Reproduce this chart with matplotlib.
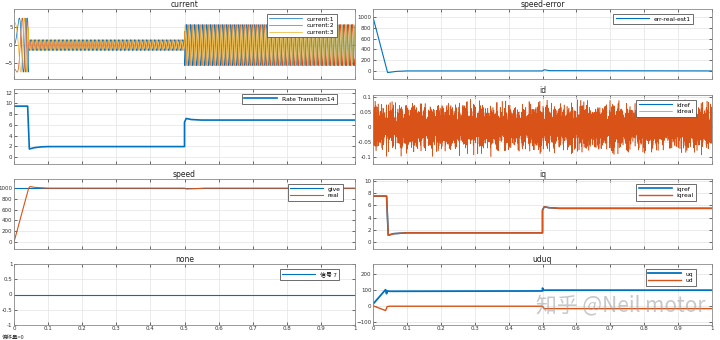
import numpy as np
import matplotlib.pyplot as plt

plt.rcParams['font.family'] = ['DejaVu Sans', 'Noto Sans CJK SC']

# ---- signal data ----
# three-phase current: segment edges, peak amplitude, electrical frequency
cur_edges = [0.0, 0.042, 0.5, 1.0]
cur_amps = [7.5, 1.5, 5.7]
cur_freq = 85.0

rate_t = [0, 0.040, 0.045, 0.06, 0.08, 0.1, 0.5, 0.5, 0.505, 0.52, 0.55, 1.0]
rate_v = [9.5, 9.5, 1.5, 1.75, 1.9, 1.95, 1.95, 6.5, 7.2, 7.0, 6.9, 6.9]

err_t = [0, 0.043, 0.05, 0.07, 0.1, 0.5, 0.505, 0.52, 1.0]
err_v = [1000, -30, -25, -8, 0, 0, 22, 5, 0]

give_t = [0, 1.0]
give_v = [1000, 1000]
real_t = [0, 0.043, 0.047, 0.06, 0.1, 0.5, 0.505, 0.53, 0.56, 1.0]
real_v = [0, 1000, 1030, 1015, 1000, 1000, 985, 990, 1000, 1000]

iq_t = [0, 0.040, 0.045, 0.06, 0.1, 0.5, 0.5, 0.505, 0.52, 0.55, 1.0]
iqref_v = [7.5, 7.5, 1.1, 1.35, 1.5, 1.5, 5.2, 5.75, 5.6, 5.5, 5.5]
iqreal_v = [7.5, 7.5, 1.1, 1.35, 1.5, 1.5, 5.2, 5.75, 5.6, 5.5, 5.5]

uq_t = [0, 0.037, 0.040, 0.042, 0.05, 0.5, 0.5, 0.503, 0.51, 1.0]
uq_v = [10, 100, 75, 92, 90, 92, 110, 96, 97, 97]
ud_t = [0, 0.037, 0.042, 0.05, 0.5, 0.505, 1.0]
ud_v = [0, -30, -5, -3, -3, -18, -18]

none_t = [0, 1.0]
none_v = [0, 0]

# id ripple samples (three tables of different length, overlaid)
id_a = [0.62, -0.35, 0.91, -0.78, 0.14, -0.52, 0.33, 0.87, -0.96, 0.05, -0.21, 0.68, -0.64, 0.41, -0.09,
        0.77, -0.88, 0.26, 0.53, -0.44, 0.95, -0.13, -0.71, 0.38, -0.57, 0.82, -0.29, 0.11, -0.93]
id_b = [-0.47, 0.73, -0.18, 0.56, -0.91, 0.24, 0.85, -0.66, 0.02, -0.39, 0.97, -0.81, 0.31, -0.12, 0.64,
        -0.55, 0.19, -0.98, 0.44, 0.71, -0.27, 0.08, -0.74, 0.59, -0.36, 0.89, -0.61, 0.15, -0.83, 0.48,
        -0.07, 0.92, -0.49, 0.28, -0.69, 0.76, -0.22, 0.53, -0.95, 0.37, -0.04]
id_c = [0.81, -0.26, 0.43, -0.97, 0.12, 0.66, -0.58, 0.35, -0.84, 0.01, 0.93, -0.42, 0.27, -0.73, 0.58,
        -0.16, 0.79, -0.62, 0.21, -0.89, 0.47, 0.09, -0.36, 0.99, -0.51, 0.18, -0.77, 0.63, -0.08, 0.39,
        -0.94, 0.72, -0.31, 0.55, -0.67, 0.04, 0.86, -0.45, 0.24, -0.82, 0.61, -0.19, 0.34, -0.99, 0.76,
        -0.53, 0.13, -0.71, 0.49, -0.11, 0.88, -0.38, 0.29]

xticks = [0, 0.1, 0.2, 0.3, 0.4, 0.5, 0.6, 0.7, 0.8, 0.9, 1]
xticklabels = ['0', '0.1', '0.2', '0.3', '0.4', '0.5', '0.6', '0.7', '0.8', '0.9', '1']

BLUE = '#0072BD'
ORANGE = '#D95319'
YELLOW = '#EDB120'

# ---- build current waveform ----
t = np.linspace(0, 1, 20001)
ph = np.where(t < cur_edges[1], 0.5 * cur_freq / cur_edges[1] * t ** 2,
              cur_freq * (t - cur_edges[1]) + 0.5 * cur_freq * cur_edges[1])
amp = np.select([t < cur_edges[1], t < cur_edges[2]], cur_amps[:2], cur_amps[2])
currents = [amp * np.sin(2 * np.pi * ph - k * 2 * np.pi / 3) for k in range(3)]

n_id = 5000
t_id = np.linspace(0, 1, n_id)
id_real = 0.034 * (np.resize(id_a, n_id) + np.resize(id_b, n_id) + np.resize(id_c, n_id))

fig = plt.figure(figsize=(7.2, 3.4), dpi=100, facecolor='white')

W, H = 720, 340
CJK = ['Noto Sans CJK SC', 'DejaVu Sans']


def make_ax(left, top, right, bottom):
    ax = fig.add_axes([left / W, 1 - bottom / H, (right - left) / W, (bottom - top) / H])
    ax.set_xlim(0, 1)
    ax.set_xticks(xticks)
    ax.set_xticklabels([])
    ax.grid(True, color='#e3e3e3', lw=0.5)
    ax.set_axisbelow(True)
    ax.tick_params(direction='in', length=2, width=0.5, labelsize=4, colors='#333333',
                   top=True, right=True, pad=1)
    for s in ax.spines.values():
        s.set_color('#8a8a8a')
        s.set_linewidth(0.6)
    return ax


def legend(ax, right_px=19, top_px=5):
    bb = ax.get_position()
    wpx, hpx = bb.width * W, bb.height * H
    lg = ax.legend(loc='upper right', bbox_to_anchor=(1 - right_px / wpx, 1 - top_px / hpx),
                   borderaxespad=0, fontsize=4.3, fancybox=False, handlelength=5.5,
                   handletextpad=0.8, borderpad=0.4, labelspacing=0.25, framealpha=1)
    lg.get_frame().set_edgecolor('#555555')
    lg.get_frame().set_linewidth(0.6)
    return lg


def title(ax, s):
    ax.set_title(s, fontsize=5.5, pad=1.5, color='#222222')


L0, L1, R0, R1 = 14, 355, 373, 712

# current
ax = make_ax(L0, 9, L1, 79)
for c, col, lab in zip(currents, [BLUE, ORANGE, YELLOW], ['current:1', 'current:2', 'current:3']):
    ax.plot(t, c, color=col, lw=0.5, label=lab)
ax.set_ylim(-9.4, 10)
ax.set_yticks([-5, 0, 5])
title(ax, 'current')
legend(ax, 18, 5)

# Rate Transition14
ax = make_ax(L0, 89, L1, 164)
ax.plot(rate_t, rate_v, color=BLUE, lw=1.2, label='Rate Transition14')
ax.set_ylim(-1.3, 12.7)
ax.set_yticks([0, 2, 4, 6, 8, 10, 12])
legend(ax, 18, 5)

# speed
ax = make_ax(L0, 179, L1, 249)
ax.plot(give_t, give_v, color=BLUE, lw=0.8, label='give')
ax.plot(real_t, real_v, color=ORANGE, lw=0.8, label='real')
ax.set_ylim(-130, 1170)
ax.set_yticks([0, 200, 400, 600, 800, 1000])
title(ax, 'speed')
legend(ax, 12, 5)

# none
ax = make_ax(L0, 264, L1, 325)
ax.plot(none_t, none_v, color=BLUE, lw=0.8, label='信号 7')
ax.set_ylim(-1, 1)
ax.set_yticks([-1, -0.5, 0, 0.5, 1])
ax.set_yticklabels(['-1', '-0.5', '0', '0.5', '1'])
ax.set_xticklabels(xticklabels)
title(ax, 'none')
for txt in legend(ax, 16, 5).get_texts():
    txt.set_family(CJK)

# speed-error
ax = make_ax(R0, 9, R1, 79)
ax.plot(err_t, err_v, color=BLUE, lw=0.8, label='err-real-est1')
ax.set_ylim(-150, 1150)
ax.set_yticks([0, 200, 400, 600, 800, 1000])
title(ax, 'speed-error')
legend(ax, 19, 5)

# id
ax = make_ax(R0, 95, R1, 164)
ax.plot([0, 1], [0, 0], color=BLUE, lw=0.8, label='idref')
ax.plot(t_id, id_real, color=ORANGE, lw=0.4, label='idreal')
ax.set_ylim(-0.123, 0.107)
ax.set_yticks([-0.1, -0.05, 0, 0.05, 0.1])
ax.set_yticklabels(['-0.1', '-0.05', '0', '0.05', '0.1'])
title(ax, 'id')
legend(ax, 16, 5)

# iq
ax = make_ax(R0, 179, R1, 249)
ax.plot(iq_t, iqref_v, color=BLUE, lw=1.2, label='iqref')
ax.plot(iq_t, iqreal_v, color=ORANGE, lw=1.0, label='iqreal')
ax.set_ylim(-1.15, 10.3)
ax.set_yticks([0, 2, 4, 6, 8, 10])
title(ax, 'iq')
legend(ax, 16, 5)

# uduq
ax = make_ax(R0, 264, R1, 325)
ax.plot(uq_t, uq_v, color=BLUE, lw=1.3, label='uq')
ax.plot(ud_t, ud_v, color=ORANGE, lw=1.0, label='ud')
ax.set_ylim(-120, 260)
ax.set_yticks([-100, 0, 100, 200])
ax.set_xticklabels(xticklabels)
title(ax, 'uduq')
legend(ax, 16, 5)

fig.text(2 / W, 1 - 339.5 / H, '偏移量=0', fontsize=4, color='#333333',
         family=CJK, va='bottom')
fig.text(705 / W, 1 - 305 / H, '知乎 @Neil motor', fontsize=15, color='#9a9a9a', alpha=0.55,
         family=CJK, ha='right', va='center')

fig.savefig('out.png', dpi=100, facecolor='white')
